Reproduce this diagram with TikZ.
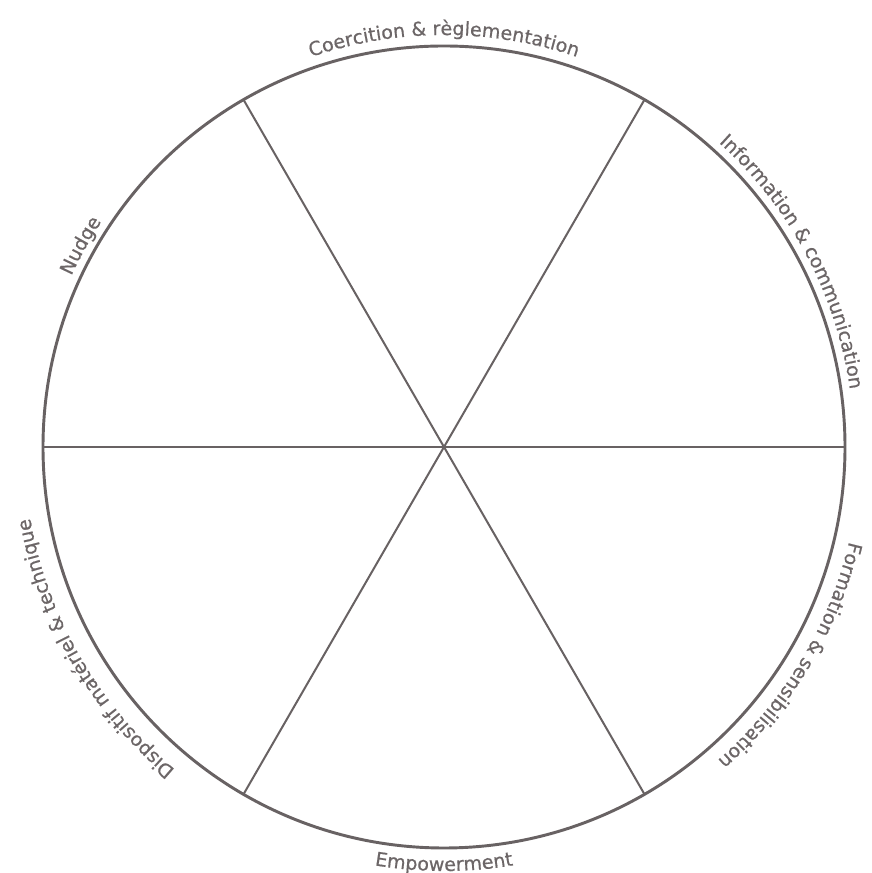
\documentclass[tikz,border=0pt]{standalone}
\usepackage{fontspec}
\setmainfont{DejaVu Sans}
\newfontfamily\lblfam[FakeBold=0.6]{DejaVu Sans}
\usetikzlibrary{decorations.text}
\definecolor{rimcol}{RGB}{104,98,99}
\definecolor{lblcol}{RGB}{108,102,103}
\newcommand\lblfont{\lblfam\fontsize{14.3}{17}\selectfont\color{lblcol}}
\tikzset{
  rim/.style={draw=rimcol, line width=2.2pt},
  spoke/.style={draw=rimcol, line width=1.5pt},
}
\begin{document}
\begin{tikzpicture}
\path[use as bounding box, fill=white] (0,0) rectangle (653.25pt,654.75pt);
\coordinate (O) at (333pt,319.5pt);
\foreach \a in {0,60,120,180,240,300}{
  \coordinate (p\a) at ([shift={(\a:300.75pt)}]O);
}
\draw[spoke] (p0) -- (p180);
\draw[spoke] (p60) -- (p240);
\draw[spoke] (p120) -- (p300);
\draw[rim] (O) circle[radius=300.75pt];
% labels (clockwise, tops outward)
\path[decorate, decoration={text along path, text align=center,
  text={|\lblfont|Coercition {\&} règlementation}}]
  ([shift={(125:309pt)}]O) arc[start angle=125, end angle=55, radius=309pt];
\path[decorate, decoration={text along path, text align=center,
  text={|\lblfont|Information {\&} communication}}]
  ([shift={(63:307.5pt)}]O) arc[start angle=63, end angle=-7, radius=307.5pt];
\path[decorate, decoration={text along path, text align=center,
  text={|\lblfont|Formation {\&} sensibilisation}}]
  ([shift={(4:312pt)}]O) arc[start angle=4, end angle=-66, radius=312pt];
\path[decorate, decoration={text along path, text align=center,
  text={|\lblfont|Dispositif matériel {\&} technique}}]
  ([shift={(245:315pt)}]O) arc[start angle=245, end angle=175, radius=315pt];
\path[decorate, decoration={text along path, text align=center,
  text={|\lblfont|Nudge}}]
  ([shift={(181:307.5pt)}]O) arc[start angle=181, end angle=121, radius=307.5pt];
% bottom label (counter-clockwise, upright)
\path[decorate, decoration={text along path, text align=center,
  text={|\lblfont|Empowerment}}]
  ([shift={(240:318pt)}]O) arc[start angle=240, end angle=300, radius=318pt];
\end{tikzpicture}
\end{document}
